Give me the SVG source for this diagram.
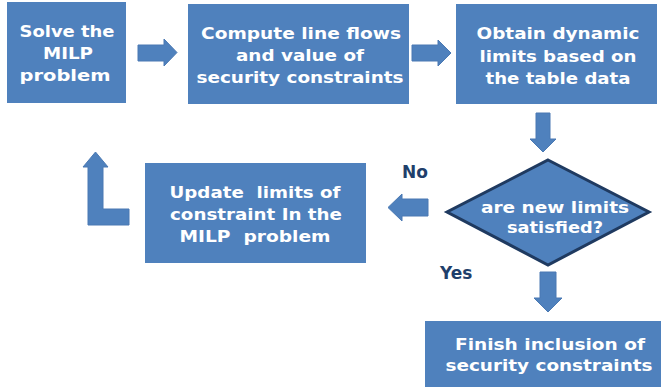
<svg xmlns="http://www.w3.org/2000/svg" width="661" height="387" viewBox="0 0 661 387">
  <style>
    .box { fill: #4F81BD; }
    .arrow { fill: #4F81BD; stroke: #4A79B3; stroke-width: 1; stroke-linejoin: round; }
    .label { font-family: "DejaVu Sans", Verdana, sans-serif; font-weight: bold; font-size: 16.5px; fill: #FFFFFF; text-anchor: middle; white-space: pre; }
    .branch { font-family: "DejaVu Sans", Verdana, sans-serif; font-weight: bold; font-size: 17px; fill: #1F3F6B; }
  </style>
  <rect width="661" height="387" fill="#FFFFFF"/>

  <g id="solve">
    <rect class="box" x="7" y="2" width="119" height="101"/>
    <text class="label" x="67" y="37" textLength="95" lengthAdjust="spacingAndGlyphs">Solve the</text>
    <text class="label" x="68" y="59" textLength="50" lengthAdjust="spacingAndGlyphs">MILP</text>
    <text class="label" x="65" y="81" textLength="91" lengthAdjust="spacingAndGlyphs">problem</text>
  </g>

  <g id="compute">
    <rect class="box" x="188" y="4" width="221" height="100"/>
    <text class="label" x="301" y="39" textLength="200" lengthAdjust="spacingAndGlyphs">Compute line flows</text>
    <text class="label" x="300" y="61" textLength="128" lengthAdjust="spacingAndGlyphs">and value of</text>
    <text class="label" x="300" y="83" textLength="207" lengthAdjust="spacingAndGlyphs">security constraints</text>
  </g>

  <g id="obtain">
    <rect class="box" x="456" y="4" width="201" height="100"/>
    <text class="label" x="558" y="39" textLength="163" lengthAdjust="spacingAndGlyphs">Obtain dynamic</text>
    <text class="label" x="558" y="62" textLength="157" lengthAdjust="spacingAndGlyphs">limits based on</text>
    <text class="label" x="558" y="84" textLength="145" lengthAdjust="spacingAndGlyphs">the table data</text>
  </g>

  <g id="decision">
    <polygon points="548,160 649,212 548,265 447,212" fill="#4F81BD" stroke="#1F3A60" stroke-width="3" stroke-linejoin="miter"/>
    <text class="label" x="555" y="213" textLength="148" lengthAdjust="spacingAndGlyphs">are new limits</text>
    <text class="label" x="555" y="233" textLength="96" lengthAdjust="spacingAndGlyphs">satisfied?</text>
  </g>

  <g id="update">
    <rect class="box" x="145" y="163" width="221" height="100"/>
    <text class="label" x="255" y="198" textLength="171" lengthAdjust="spacingAndGlyphs">Update  limits of</text>
    <text class="label" x="256" y="220" textLength="172" lengthAdjust="spacingAndGlyphs">constraint In the</text>
    <text class="label" x="255" y="242" textLength="151" lengthAdjust="spacingAndGlyphs">MILP  problem</text>
  </g>

  <g id="finish">
    <rect class="box" x="425" y="321" width="236" height="66"/>
    <text class="label" x="550" y="350" textLength="190" lengthAdjust="spacingAndGlyphs">Finish inclusion of</text>
    <text class="label" x="549" y="371" textLength="207" lengthAdjust="spacingAndGlyphs">security constraints</text>
  </g>

  <g id="connectors">
    <!-- solve -> compute -->
    <polygon class="arrow" points="138,45 164,45 164,39 177,52.5 164,66 164,61 138,61"/>
    <!-- compute -> obtain -->
    <polygon class="arrow" points="412,45 438,45 438,40 451,53 438,66 438,61 412,61"/>
    <!-- obtain -> decision -->
    <polygon class="arrow" points="536,113 550,113 550,139 556,139 543,152 530,139 536,139"/>
    <!-- decision -> update (No) -->
    <polygon class="arrow" points="428,199 402,199 402,194 388,207.5 402,221 402,216 428,216"/>
    <!-- decision -> finish (Yes) -->
    <polygon class="arrow" points="540,272 556,272 556,298 562,298 548,312 534,298 540,298"/>
    <!-- update -> solve (loop back) -->
    <polygon class="arrow" points="129,209 129,225 88,225 88,167 83,167 95.5,152 108,167 103,167 103,209"/>
    <text class="branch" x="402" y="178">No</text>
    <text class="branch" x="440" y="279">Yes</text>
  </g>
</svg>
